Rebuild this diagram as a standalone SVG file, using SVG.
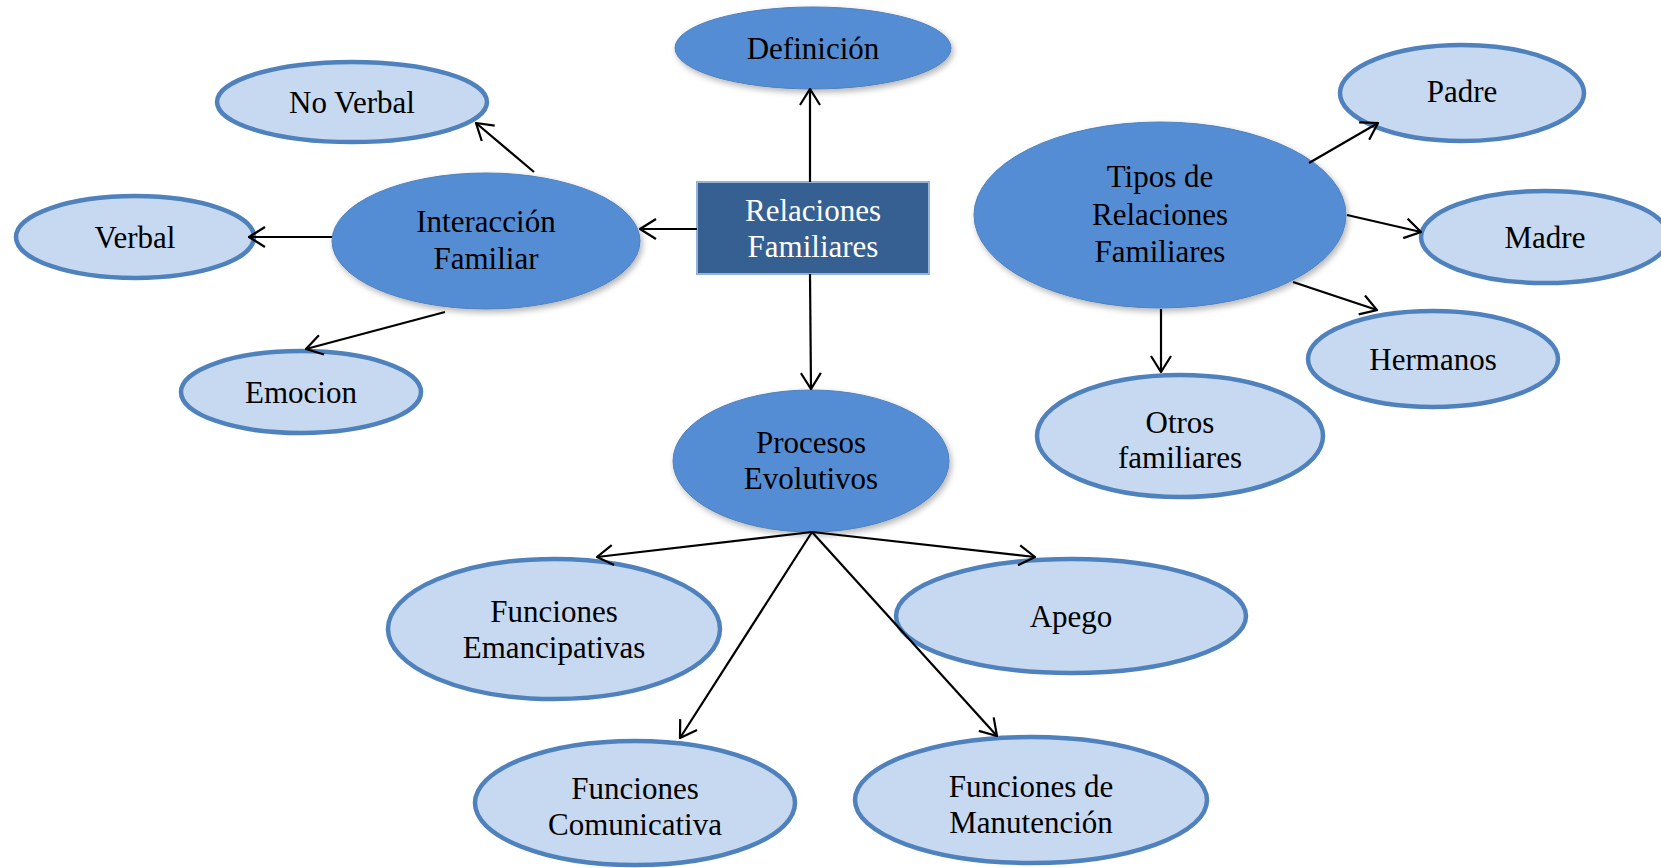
<svg xmlns="http://www.w3.org/2000/svg" width="1661" height="868" viewBox="0 0 1661 868">
<style>
.dark{fill:#548dd4;stroke:#4f81bd;stroke-width:1}
.light{fill:#c6d9f1;stroke:#4f81bd;stroke-width:4.5}
.rect{fill:#366092;stroke:#95b3d7;stroke-width:2}
text{font-family:"Liberation Serif","Times New Roman",serif;font-size:31px;fill:#000;text-anchor:middle}
.w{fill:#fff}
.con line{stroke:#000;stroke-width:2.2;marker-end:url(#arr)}
</style>
<defs>
<marker id="arr" viewBox="0 0 18 22" refX="17" refY="11" markerWidth="18" markerHeight="22" markerUnits="userSpaceOnUse" orient="auto">
<path d="M1,1 L17,11 L1,21" fill="none" stroke="#000" stroke-width="2.2"/>
</marker>
<filter id="sh" x="-10%" y="-10%" width="125%" height="130%">
<feGaussianBlur in="SourceAlpha" stdDeviation="3"/>
<feOffset dx="2" dy="3"/>
<feComponentTransfer><feFuncA type="linear" slope="0.3"/></feComponentTransfer>
<feMerge><feMergeNode/><feMergeNode in="SourceGraphic"/></feMerge>
</filter>
</defs>
<g id="definicion"><ellipse class="dark" filter="url(#sh)" cx="813" cy="48" rx="138" ry="41"/><text x="813" y="59">Definición</text></g>
<g id="relaciones"><rect class="rect" x="697" y="182" width="232" height="92"/><text class="w" x="813" y="221">Relaciones</text><text class="w" x="813" y="257">Familiares</text></g>
<g id="interaccion"><ellipse class="dark" filter="url(#sh)" cx="486" cy="241" rx="154" ry="68"/><text x="486" y="232">Interacción</text><text x="486" y="269">Familiar</text></g>
<g id="noverbal"><ellipse class="light" cx="352" cy="102" rx="135" ry="40"/><text x="352" y="113">No Verbal</text></g>
<g id="verbal"><ellipse class="light" cx="135" cy="237" rx="119" ry="41"/><text x="135" y="248">Verbal</text></g>
<g id="emocion"><ellipse class="light" cx="301" cy="392" rx="120" ry="41"/><text x="301" y="403">Emocion</text></g>
<g id="tipos"><ellipse class="dark" filter="url(#sh)" cx="1160" cy="215" rx="186" ry="93"/><text x="1160" y="187">Tipos de</text><text x="1160" y="225">Relaciones</text><text x="1160" y="262">Familiares</text></g>
<g id="padre"><ellipse class="light" cx="1462" cy="93" rx="122" ry="48"/><text x="1462" y="102">Padre</text></g>
<g id="madre"><ellipse class="light" cx="1545" cy="237" rx="124" ry="46"/><text x="1545" y="248">Madre</text></g>
<g id="hermanos"><ellipse class="light" cx="1433" cy="359" rx="125" ry="48"/><text x="1433" y="370">Hermanos</text></g>
<g id="otros"><ellipse class="light" cx="1180" cy="436" rx="143" ry="61"/><text x="1180" y="433">Otros</text><text x="1180" y="468">familiares</text></g>
<g id="procesos"><ellipse class="dark" filter="url(#sh)" cx="811" cy="461" rx="138" ry="71"/><text x="811" y="453">Procesos</text><text x="811" y="489">Evolutivos</text></g>
<g id="emancipativas"><ellipse class="light" cx="554" cy="629" rx="166" ry="70"/><text x="554" y="622">Funciones</text><text x="554" y="658">Emancipativas</text></g>
<g id="apego"><ellipse class="light" cx="1071" cy="616" rx="175" ry="57"/><text x="1071" y="627">Apego</text></g>
<g id="comunicativa"><ellipse class="light" cx="635" cy="803" rx="160" ry="62"/><text x="635" y="799">Funciones</text><text x="635" y="835">Comunicativa</text></g>
<g id="manutencion"><ellipse class="light" cx="1031" cy="800" rx="176" ry="63"/><text x="1031" y="797">Funciones de</text><text x="1031" y="833">Manutención</text></g>
<g class="con">
<line x1="810" y1="182" x2="810" y2="89"/>
<line x1="697" y1="229" x2="640" y2="229"/>
<line x1="810" y1="274" x2="811" y2="389"/>
<line x1="534" y1="172" x2="476" y2="123"/>
<line x1="332" y1="237" x2="249" y2="237"/>
<line x1="445" y1="312" x2="306" y2="349"/>
<line x1="1309" y1="163" x2="1378" y2="123"/>
<line x1="1347" y1="215" x2="1421" y2="232"/>
<line x1="1293" y1="282" x2="1377" y2="310"/>
<line x1="1161" y1="309" x2="1161" y2="372"/>
<line x1="812" y1="532" x2="597" y2="557"/>
<line x1="812" y1="532" x2="1035" y2="557"/>
<line x1="812" y1="532" x2="680" y2="738"/>
<line x1="812" y1="532" x2="997" y2="736"/>
</g>
</svg>
